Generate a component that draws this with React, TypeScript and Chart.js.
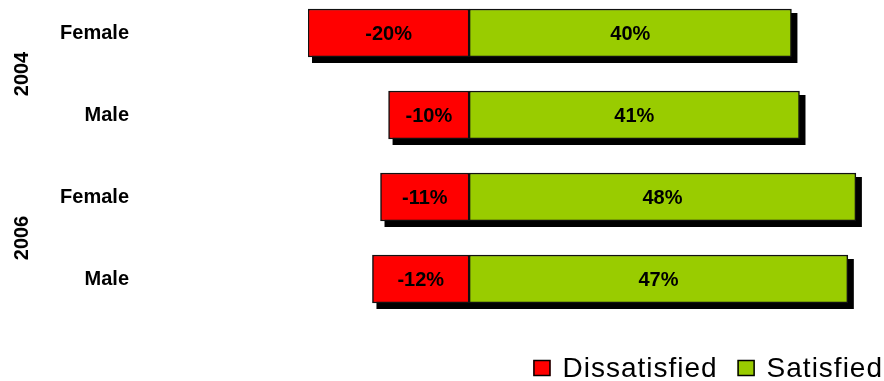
import React, { useEffect, useRef } from "react";
import { Chart, registerables } from "chart.js";

Chart.register(...registerables);

const categories = ["Female", "Male", "Female", "Male"];
const groups = ["2004", "2006"];
const seriesNames = ["Dissatisfied", "Satisfied"];
const dissatisfied = [-20, -10, -11, -12];
const satisfied = [40, 41, 48, 47];
const seriesColors = ["#FF0000", "#99CC00"];
const xMin = -20;
const xMax = 50;

const FONT = '"Liberation Sans", Arial, Helvetica, sans-serif';

const shadowPlugin = {
  id: "barShadow",
  beforeDatasetsDraw(chart: any) {
    const ctx = chart.ctx;
    ctx.save();
    ctx.fillStyle = "#000";
    chart.data.datasets.forEach((_: any, i: number) => {
      const meta = chart.getDatasetMeta(i);
      meta.data.forEach((el: any) => {
        const p = el.getProps(["x", "y", "base", "height"], true);
        const left = Math.min(p.x, p.base);
        const w = Math.abs(p.x - p.base);
        ctx.fillRect(left + 4, p.y - p.height / 2 + 4, w + 2, p.height + 2);
      });
    });
    ctx.restore();
  },
};

const labelPlugin = {
  id: "valueLabels",
  afterDatasetsDraw(chart: any) {
    const ctx = chart.ctx;
    ctx.save();
    ctx.font = `bold 20px ${FONT}`;
    ctx.fillStyle = "#000";
    ctx.textAlign = "center";
    ctx.textBaseline = "middle";
    chart.data.datasets.forEach((ds: any, i: number) => {
      const meta = chart.getDatasetMeta(i);
      meta.data.forEach((el: any, j: number) => {
        const p = el.getProps(["x", "y", "base"], true);
        ctx.fillText(`${ds.data[j]}%`, (p.x + p.base) / 2, p.y + 1);
      });
    });
    ctx.restore();
  },
};

const groupPlugin = {
  id: "groupLabels",
  afterDraw(chart: any) {
    const ctx = chart.ctx;
    const yScale = chart.scales.y;
    ctx.save();
    ctx.font = `bold 20px ${FONT}`;
    ctx.fillStyle = "#000";
    ctx.textAlign = "center";
    ctx.textBaseline = "middle";
    groups.forEach((g, gi) => {
      const yc = (yScale.getPixelForValue(gi * 2) + yScale.getPixelForValue(gi * 2 + 1)) / 2;
      ctx.save();
      ctx.translate(22, yc);
      ctx.rotate(-Math.PI / 2);
      ctx.fillText(g, 0, 0);
      ctx.restore();
    });
    ctx.restore();
  },
};

const legendPlugin = {
  id: "customLegend",
  afterDraw(chart: any) {
    const ctx = chart.ctx;
    ctx.save();
    ctx.font = `28px ${FONT}`;
    try {
      (ctx as any).letterSpacing = "1px";
    } catch (e) {}
    const box = 17;
    const gapBoxText = 12;
    const gapItems = 20;
    const widths = seriesNames.map((n) => ctx.measureText(n).width);
    const total = widths.reduce((a, w) => a + box + gapBoxText + w, 0) + gapItems * (seriesNames.length - 1);
    let x = chart.width - 1 - total;
    const baseline = chart.height - 4;
    seriesNames.forEach((n, i) => {
      ctx.fillStyle = seriesColors[i];
      ctx.fillRect(x, baseline - box, box, box - 1);
      ctx.strokeStyle = "#000";
      ctx.lineWidth = 1.5;
      ctx.strokeRect(x + 0.5, baseline - box + 0.5, box - 1, box - 2);
      ctx.fillStyle = "#000";
      ctx.textAlign = "left";
      ctx.textBaseline = "alphabetic";
      ctx.fillText(n, x + box + gapBoxText, baseline);
      x += box + gapBoxText + widths[i] + gapItems;
    });
    ctx.restore();
  },
};

export default function App() {
  const ref = useRef<HTMLCanvasElement | null>(null);

  useEffect(() => {
    document.body.style.margin = "0";
    if (!ref.current) return;
    const chart = new Chart(ref.current, {
      type: "bar",
      data: {
        labels: categories,
        datasets: [
          {
            label: seriesNames[0],
            data: dissatisfied,
            backgroundColor: seriesColors[0],
            borderColor: "#111",
            borderWidth: 1.5,
            borderSkipped: false,
            barThickness: 48,
          },
          {
            label: seriesNames[1],
            data: satisfied,
            backgroundColor: seriesColors[1],
            borderColor: "#111",
            borderWidth: 1.5,
            borderSkipped: false,
            barThickness: 48,
          },
        ],
      },
      options: {
        indexAxis: "y",
        responsive: false,
        animation: false,
        devicePixelRatio: 1,
        layout: { padding: { left: 0, right: 12, top: 0, bottom: 61 } },
        plugins: {
          legend: { display: false },
          tooltip: { enabled: false },
        },
        scales: {
          x: {
            type: "linear",
            stacked: true,
            min: xMin,
            max: xMax,
            display: false,
          },
          y: {
            stacked: true,
            position: "left",
            grid: { display: false, drawTicks: false },
            border: { display: false },
            ticks: {
              color: "#000",
              font: { family: FONT, size: 20, weight: "bold" },
              padding: 179,
            },
            afterFit(scale: any) {
              scale.width = 308;
              scale.paddingTop = 0;
              scale.paddingBottom = 0;
            },
          },
        },
      },
      plugins: [shadowPlugin, labelPlugin, groupPlugin, legendPlugin],
    } as any);
    return () => chart.destroy();
  }, []);

  return (
    <div style={{ position: "relative", width: 884, height: 381, overflow: "hidden" }}>
      <canvas
        ref={ref}
        width={884}
        height={389}
        style={{ position: "absolute", left: 0, top: -8, width: 884, height: 389 }}
      />
    </div>
  );
}
